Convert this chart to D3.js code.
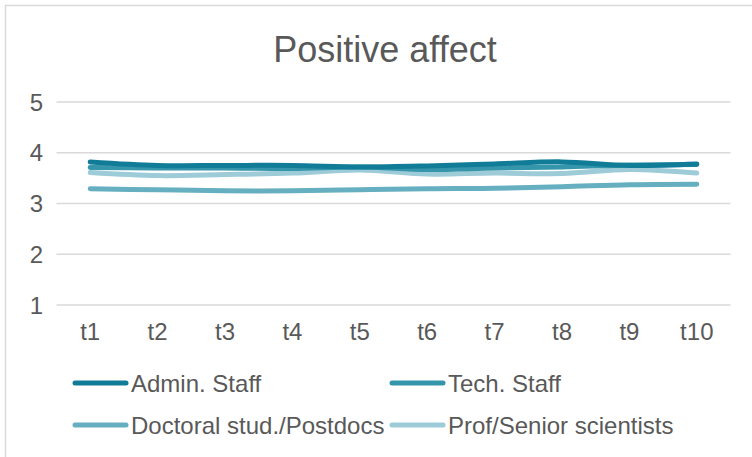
<!DOCTYPE html>
<html><head><meta charset="utf-8">
<script src="https://cdn.jsdelivr.net/npm/d3@7"></script>
<style>body{margin:0;background:#fff}svg{display:block}</style>
</head><body>
<svg id="c" width="752" height="457"></svg>
<script>
const categories = ["t1","t2","t3","t4","t5","t6","t7","t8","t9","t10"];
const seriesNames = ["Admin. Staff","Tech. Staff","Doctoral stud./Postdocs","Prof/Senior scientists"];
const adminStaff = [3.82,3.75,3.75,3.75,3.72,3.74,3.78,3.82,3.75,3.78];
const techStaff = [3.71,3.70,3.70,3.69,3.72,3.67,3.70,3.72,3.76,3.77];
const doctoral = [3.29,3.27,3.25,3.25,3.27,3.29,3.30,3.33,3.37,3.38];
const prof = [3.61,3.55,3.57,3.60,3.66,3.58,3.60,3.59,3.67,3.60];
const yTicks = [1,2,3,4,5];
const colors = ["#117c97","#3595ab","#66afc0","#9dcbd8"];
const series = [adminStaff, techStaff, doctoral, prof];

const svg = d3.select("#c");
const font = "'Liberation Sans', Arial, sans-serif";
const txt = "#595959";

svg.append("rect").attr("x",5.5).attr("y",5.5).attr("width",760).attr("height",470)
  .attr("fill","#fff").attr("stroke","#d9d9d9").attr("stroke-width",1.5);

svg.append("text").attr("x",385).attr("y",62).attr("text-anchor","middle")
  .attr("font-family",font).attr("font-size",36).attr("fill",txt).text("Positive affect");

const x = d3.scaleBand().domain(categories).range([56.5,730.5]);
const y = d3.scaleLinear().domain([1,5]).range([305,102]);

const grid = svg.append("g");
yTicks.forEach(t=>{
  grid.append("line").attr("x1",56.5).attr("x2",730.5).attr("y1",y(t)).attr("y2",y(t))
    .attr("stroke","#d9d9d9").attr("stroke-width",1.5);
  svg.append("text").attr("x",43).attr("y",y(t)+8.5).attr("text-anchor","end")
    .attr("font-family",font).attr("font-size",24).attr("fill",txt).text(t);
});
categories.forEach(c=>{
  svg.append("text").attr("x",x(c)+x.bandwidth()/2).attr("y",339.5).attr("text-anchor","middle")
    .attr("font-family",font).attr("font-size",24).attr("fill",txt).text(c);
});

const line = d3.line().x((d,i)=>x(categories[i])+x.bandwidth()/2).y(d=>y(d)).curve(d3.curveCatmullRom.alpha(0.5));
[3,2,1,0].forEach(i=>{
  svg.append("path").attr("d",line(series[i])).attr("fill","none").attr("stroke",colors[i])
    .attr("stroke-width",5).attr("stroke-linecap","round").attr("stroke-linejoin","round");
});

const legPos = [[73,383],[390,383],[73,425],[390,425]];
seriesNames.forEach((n,i)=>{
  const [lx,ly] = legPos[i];
  svg.append("line").attr("x1",lx+2).attr("x2",lx+53).attr("y1",ly).attr("y2",ly)
    .attr("stroke",colors[i]).attr("stroke-width",5).attr("stroke-linecap","round");
  svg.append("text").attr("x",lx+58).attr("y",ly+8.5).attr("font-family",font)
    .attr("font-size",24).attr("fill",txt).text(n);
});
</script>
</body></html>
